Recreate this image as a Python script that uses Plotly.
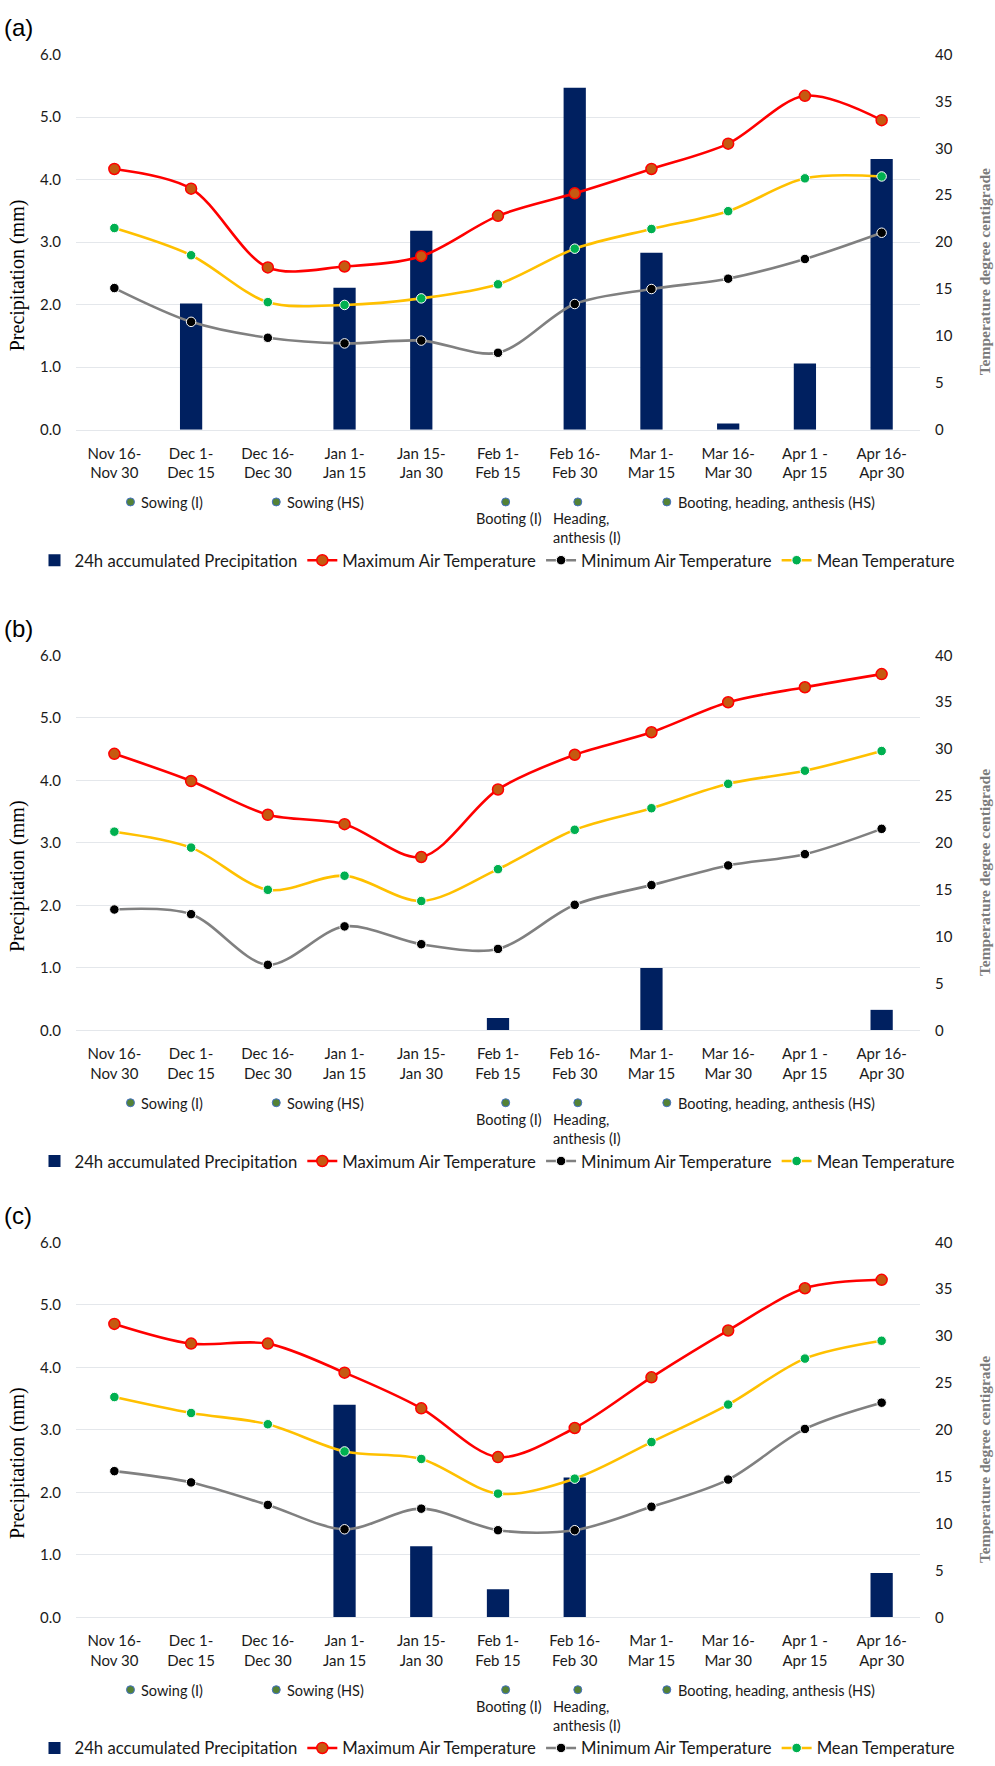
import plotly.graph_objects as go

# ---------------- data ----------------
periods = ["Nov 16-<br>Nov 30", "Dec 1-<br>Dec 15", "Dec 16-<br>Dec 30", "Jan 1-<br>Jan 15",
           "Jan 15-<br>Jan 30", "Feb 1-<br>Feb 15", "Feb 16-<br>Feb 30", "Mar 1-<br>Mar 15",
           "Mar 16-<br>Mar 30", "Apr 1 -<br>Apr 15", "Apr 16-<br>Apr 30"]

prec_a = [0, 2.02, 0, 2.27, 3.18, 0, 5.47, 2.83, 0.10, 1.06, 4.33]
tmax_a = [27.8, 25.7, 17.3, 17.4, 18.5, 22.8, 25.2, 27.8, 30.5, 35.6, 33.0]
tmin_a = [15.1, 11.5, 9.8, 9.2, 9.5, 8.2, 13.4, 15.0, 16.1, 18.2, 21.0]
tmean_a = [21.5, 18.6, 13.6, 13.3, 14.0, 15.5, 19.3, 21.4, 23.3, 26.8, 27.0]

prec_b = [0, 0, 0, 0, 0, 0.20, 0, 1.00, 0, 0, 0.33]
tmax_b = [29.5, 26.6, 23.0, 22.0, 18.5, 25.7, 29.4, 31.8, 35.0, 36.6, 38.0]
tmin_b = [12.9, 12.4, 7.0, 11.1, 9.2, 8.7, 13.4, 15.5, 17.6, 18.8, 21.5]
tmean_b = [21.2, 19.5, 15.0, 16.5, 13.8, 17.2, 21.4, 23.7, 26.3, 27.7, 29.8]

prec_c = [0, 0, 0, 3.40, 1.14, 0.45, 2.24, 0, 0, 0, 0.71]
tmax_c = [31.3, 29.2, 29.2, 26.1, 22.3, 17.1, 20.2, 25.6, 30.6, 35.1, 36.0]
tmin_c = [15.6, 14.4, 12.0, 9.4, 11.6, 9.3, 9.3, 11.8, 14.7, 20.1, 22.9]
tmean_c = [23.5, 21.8, 20.6, 17.7, 16.9, 13.2, 14.8, 18.7, 22.7, 27.6, 29.5]

phase_labels = ["Sowing (I)", "Sowing (HS)", "Booting (I)", "Heading,<br>anthesis (I)",
                "Booting, heading, anthesis (HS)"]
phase_x = [0.21, 2.11, 5.1, 6.04, 7.2]   # position along the period axis
phase_below = [False, False, True, True, False]

panel_names = ["(a)", "(b)", "(c)"]
panels = [(prec_a, tmax_a, tmin_a, tmean_a),
          (prec_b, tmax_b, tmin_b, tmean_b),
          (prec_c, tmax_c, tmin_c, tmean_c)]

# ---------------- layout constants ----------------
W, H = 995, 1766
offsets = [0, 607, 1200]
PLOT_TOP, PLOT_BOT = 45, 424
PHASE_Y = 497
LEG_Y = 556
TITLE_Y = 268
X0, X1 = 76 / W, 920 / W

SANS = "Lato, 'Open Sans', sans-serif"
SERIF = "'Liberation Serif', 'DejaVu Serif', serif"
TXT = "#1a1a1a"
GRID = "#e4e7eb"

def py(px):
    return 1 - px / H

fig = go.Figure()
layout = dict(width=W, height=H, margin=dict(l=0, r=0, t=0, b=0),
              paper_bgcolor="white", plot_bgcolor="white",
              font=dict(family=SANS, color=TXT), annotations=[])

for p, (prec, tmax, tmin, tmean) in enumerate(panels):
    off = offsets[p]
    xi = "" if p == 0 else str(p + 1)
    ya, yb, yc = 3 * p + 1, 3 * p + 2, 3 * p + 3
    yan = "" if ya == 1 else str(ya)
    leg = "legend" if p == 0 else "legend%d" % (p + 1)
    xs = list(range(len(periods)))

    fig.add_trace(go.Bar(x=xs, y=prec, name="24h accumulated Precipitation",
                         marker=dict(color="#002060", line=dict(width=0)),
                         width=0.29, xaxis="x" + xi, yaxis="y" + yan, legend=leg))
    fig.add_trace(go.Scatter(x=xs, y=tmax, name="Maximum Air Temperature", mode="lines+markers",
                             line=dict(color="#ff0000", width=2.6, shape="spline", smoothing=0.9),
                             marker=dict(color="#c55a11", size=11, line=dict(color="#ff0000", width=1.5)),
                             xaxis="x" + xi, yaxis="y%d" % yb, legend=leg))
    fig.add_trace(go.Scatter(x=xs, y=tmin, name="Minimum Air Temperature", mode="lines+markers",
                             line=dict(color="#808080", width=2.6, shape="spline", smoothing=0.9),
                             marker=dict(color="#000000", size=9.5, line=dict(color="#ffffff", width=1)),
                             xaxis="x" + xi, yaxis="y%d" % yb, legend=leg))
    fig.add_trace(go.Scatter(x=xs, y=tmean, name="Mean Temperature", mode="lines+markers",
                             line=dict(color="#ffc000", width=2.6, shape="spline", smoothing=0.9),
                             marker=dict(color="#00b050", size=9.5, line=dict(color="#ffffff", width=1)),
                             xaxis="x" + xi, yaxis="y%d" % yb, legend=leg))
    # phase markers
    fig.add_trace(go.Scatter(x=phase_x, y=[0] * len(phase_x), mode="markers", showlegend=False,
                             marker=dict(color="#548235", size=8, line=dict(color="#4472c4", width=1)),
                             xaxis="x" + xi, yaxis="y%d" % yc, cliponaxis=False, hoverinfo="skip"))
    for lab, xv, below in zip(phase_labels, phase_x, phase_below):
        if below:
            if "<br>" in lab:
                a = dict(x=xv, y=0, xanchor="left", yanchor="top", align="left", xshift=-27, yshift=-6)
            else:
                a = dict(x=xv, y=0, xanchor="center", yanchor="top", align="center", xshift=3, yshift=-6)
        else:
            a = dict(x=xv, y=0, xanchor="left", yanchor="middle", align="left", xshift=9, yshift=-1)
        a.update(text=lab, xref="x" + xi, yref="y%d" % yc, showarrow=False,
                 font=dict(family=SANS, size=14.5, color=TXT))
        layout["annotations"].append(a)

    top, bot = PLOT_TOP + off, PLOT_BOT + off
    layout["xaxis" + xi] = dict(domain=[X0, X1], anchor="y" + yan, range=[-0.5, 10.5],
                                tickvals=xs, ticktext=periods, showgrid=False, zeroline=False,
                                showline=True, linecolor=GRID, linewidth=1, ticks="",
                                ticklabelstandoff=10, tickfont=dict(family=SANS, size=15, color=TXT))
    layout["yaxis" + yan] = dict(domain=[py(bot), py(top)], anchor="x" + xi, range=[0, 6], dtick=1,
                                 tickformat=".1f", showgrid=True, gridcolor=GRID, gridwidth=1,
                                 zeroline=False, ticks="", ticklabelstandoff=14,
                                 tickfont=dict(family=SANS, size=15, color=TXT))
    layout["yaxis%d" % yb] = dict(overlaying="y" + yan, anchor="x" + xi, side="right", range=[0, 40],
                                  dtick=5, showgrid=False, zeroline=False, ticks="",
                                  ticklabelstandoff=14, tickfont=dict(family=SANS, size=15, color=TXT))
    pc = PHASE_Y + off
    layout["yaxis%d" % yc] = dict(domain=[py(pc + 10), py(pc - 10)], anchor="x" + xi, range=[-1, 1],
                                  visible=False, fixedrange=True)
    layout[leg] = dict(orientation="h", x=0.5, xanchor="center", xref="paper",
                       y=py(LEG_Y + off), yanchor="middle", yref="paper",
                       font=dict(family=SANS, size=16.7, color=TXT), itemwidth=30,
                       tracegroupgap=0, bgcolor="rgba(0,0,0,0)")
    # panel label and axis titles
    layout["annotations"].append(dict(text=panel_names[p], xref="paper", yref="paper",
                                      x=2 / W, y=py(18 + off), xanchor="left", yanchor="middle",
                                      showarrow=False,
                                      font=dict(family="'Liberation Sans', Arial, sans-serif",
                                                size=24, color="#000000")))
    layout["annotations"].append(dict(text="Precipitation (mm)", xref="paper", yref="paper",
                                      x=17 / W, y=py(TITLE_Y + off), xanchor="center",
                                      yanchor="middle", textangle=-90, showarrow=False,
                                      font=dict(family=SERIF, size=20, color="#000000")))
    layout["annotations"].append(dict(text="<b>Temperature degree centigrade</b>", xref="paper",
                                      yref="paper", x=984 / W, y=py(TITLE_Y - 3 + off),
                                      xanchor="center", yanchor="middle", textangle=-90,
                                      showarrow=False,
                                      font=dict(family=SERIF, size=15.5, color="#7b7b7b")))

fig.update_layout(**layout)
fig.write_html("out.html", config={"displayModeBar": False},
               post_script="document.body.style.margin='0';document.body.style.overflow='hidden';")
